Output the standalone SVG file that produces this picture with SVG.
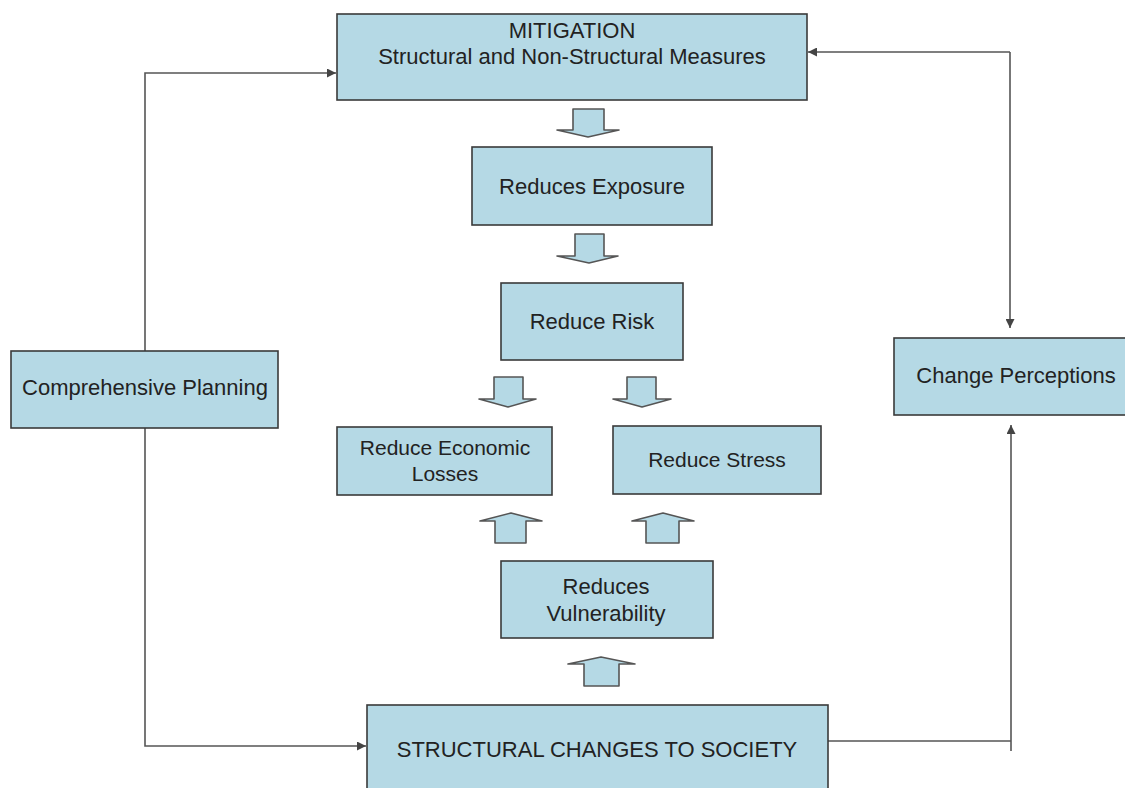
<svg xmlns="http://www.w3.org/2000/svg" width="1125" height="788" viewBox="0 0 1125 788">
<style>
.box{fill:#b5d9e5;stroke:#3a3a3a;stroke-width:1.6}
.blk{fill:#b5d9e5;stroke:#555;stroke-width:1.6;stroke-linejoin:round}
.t{font-family:"Liberation Sans",Arial,sans-serif;font-size:22px;fill:#222;text-anchor:middle}
.s{font-size:21px}
.c{fill:none;stroke:#555;stroke-width:1.6}
</style>
<defs>
<marker id="ah" viewBox="0 0 10 10" refX="10" refY="5" markerWidth="10" markerHeight="9" markerUnits="userSpaceOnUse" orient="auto">
<path d="M0,0 L10,5 L0,10 z" fill="#444"/>
</marker>
</defs>
<rect width="1125" height="788" fill="#ffffff"/>
<g id="connectors">
<path class="c" d="M145,351 V73 H336" marker-end="url(#ah)"/>
<path class="c" d="M145,428 V746 H366" marker-end="url(#ah)"/>
<path class="c" d="M1010,52 H808" marker-end="url(#ah)"/>
<path class="c" d="M1010,52 V328" marker-end="url(#ah)"/>
<path class="c" d="M828,741 H1011"/>
<path class="c" d="M1011,751 V425" marker-end="url(#ah)"/>
<polygon class="blk" points="573,109 604,109 604,130 619,130 588,137 557,130 573,130"/>
<polygon class="blk" points="575,234 604,234 604,256 618,256 589,263 557,256 575,256"/>
<polygon class="blk" points="494,377 523,377 523,399 536,399 508,407 479,399 494,399"/>
<polygon class="blk" points="627,377 656,377 656,399 671,399 642,407 613,399 627,399"/>
<polygon class="blk" points="495,543 526,543 526,521 542,521 511,513 480,521 495,521"/>
<polygon class="blk" points="646,543 679,543 679,521 694,521 663,513 632,521 646,521"/>
<polygon class="blk" points="584,686 619,686 619,664 635,664 601,657 568,664 584,664"/>
</g>
<g id="mitigation">
<rect class="box" x="337" y="14" width="470" height="86"/>
<text class="t" x="572" y="38">MITIGATION</text>
<text class="t" x="572" y="64">Structural and Non-Structural Measures</text>
</g>
<g id="reduces-exposure">
<rect class="box" x="472" y="147" width="240" height="78"/>
<text class="t" x="592" y="194">Reduces Exposure</text>
</g>
<g id="reduce-risk">
<rect class="box" x="501" y="283" width="182" height="77"/>
<text class="t" x="592" y="329">Reduce Risk</text>
</g>
<g id="reduce-economic-losses">
<rect class="box" x="337" y="427" width="215" height="68"/>
<text class="t s" x="445" y="455">Reduce Economic</text>
<text class="t s" x="445" y="481">Losses</text>
</g>
<g id="reduce-stress">
<rect class="box" x="613" y="426" width="208" height="68"/>
<text class="t s" x="717" y="467">Reduce Stress</text>
</g>
<g id="reduces-vulnerability">
<rect class="box" x="501" y="561" width="212" height="77"/>
<text class="t" x="606" y="594">Reduces</text>
<text class="t" x="606" y="621">Vulnerability</text>
</g>
<g id="comprehensive-planning">
<rect class="box" x="11" y="351" width="267" height="77"/>
<text class="t" x="145" y="395">Comprehensive Planning</text>
</g>
<g id="change-perceptions">
<rect class="box" x="894" y="338" width="244" height="77"/>
<text class="t" x="1016" y="383">Change Perceptions</text>
</g>
<g id="structural-changes">
<rect class="box" x="367" y="705" width="461" height="100"/>
<text class="t" x="597" y="757">STRUCTURAL CHANGES TO SOCIETY</text>
</g>
</svg>
